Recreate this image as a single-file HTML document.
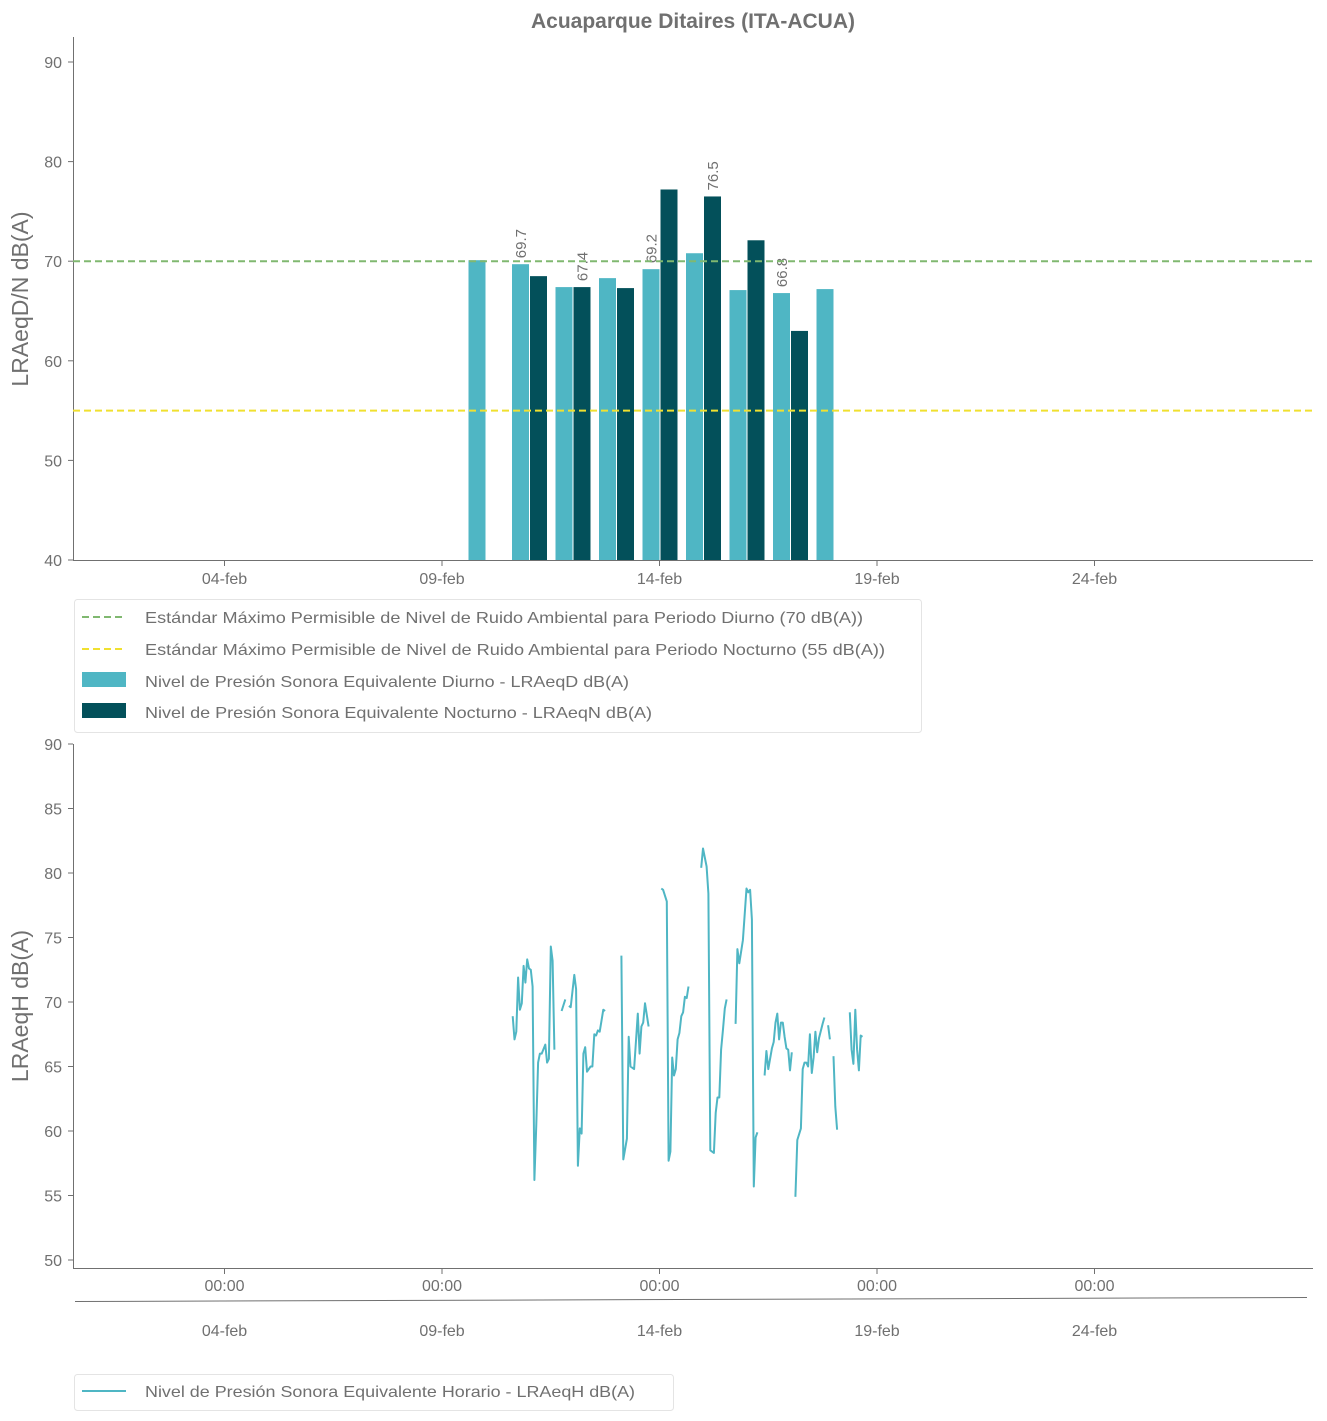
<!DOCTYPE html>
<html><head><meta charset="utf-8"><style>
body{margin:0;background:#fff}
svg{display:block;font-family:"Liberation Sans",sans-serif}
text{fill:#707070}
</style></head><body>
<svg id="svg" width="1327" height="1421" viewBox="0 0 1327 1421">
<text x="693" y="28" text-anchor="middle" font-size="21" font-weight="bold">Acuaparque Ditaires (ITA-ACUA)</text>
<g id="topChart"></g>
<g id="botChart"></g>
<g>
<rect x="74.5" y="599.5" width="847" height="133" rx="3" fill="#fff" stroke="#e4e4e4"/>
<line x1="82" y1="617" x2="126" y2="617" stroke="#80b870" stroke-width="2" stroke-dasharray="7,4"/>
<text x="145" y="623" font-size="16" textLength="718" lengthAdjust="spacingAndGlyphs">Estándar Máximo Permisible de Nivel de Ruido Ambiental para Periodo Diurno (70 dB(A))</text>
<line x1="82" y1="649" x2="126" y2="649" stroke="#f0e030" stroke-width="2" stroke-dasharray="7,4"/>
<text x="145" y="655" font-size="16" textLength="740" lengthAdjust="spacingAndGlyphs">Estándar Máximo Permisible de Nivel de Ruido Ambiental para Periodo Nocturno (55 dB(A))</text>
<rect x="82" y="672" width="44" height="15" fill="#4fb6c4"/>
<text x="145" y="687" font-size="16" textLength="484" lengthAdjust="spacingAndGlyphs">Nivel de Presión Sonora Equivalente Diurno - LRAeqD dB(A)</text>
<rect x="82" y="703" width="44" height="15" fill="#03505a"/>
<text x="145" y="718" font-size="16" textLength="507" lengthAdjust="spacingAndGlyphs">Nivel de Presión Sonora Equivalente Nocturno - LRAeqN dB(A)</text>
</g>
<g>
<rect x="74.5" y="1374.5" width="599" height="36" rx="3" fill="#fff" stroke="#e4e4e4"/>
<line x1="82" y1="1391" x2="126" y2="1391" stroke="#4fb6c4" stroke-width="2"/>
<text x="145" y="1397" font-size="16" textLength="490" lengthAdjust="spacingAndGlyphs">Nivel de Presión Sonora Equivalente Horario - LRAeqH dB(A)</text>
</g>
</svg>
<script>
// ---- data ----
const dayLabels = ["04-feb","09-feb","14-feb","19-feb","24-feb"];
const dayLabelOffsets = [-5,0,5,10,15]; // days from 09-feb
const barDays = [1,2,3,4,5,6,7,8,9]; // 10-feb .. 18-feb, days from 09-feb
const dayValues = [70.1,69.7,67.4,68.3,69.2,70.8,67.1,66.8,67.2];
const nightValues = [null,68.5,67.4,67.3,77.2,76.5,72.1,63.0,null];
const dayLabelShown = [false,true,false,false,true,false,false,true,false];
const nightLabelShown = [false,false,true,false,false,true,false,false,false];
const topTicks = [40,50,60,70,80,90];
const botTicks = [50,55,60,65,70,75,80,85,90];
const dayStandard = 70, nightStandard = 55;
// hourly: hours since 09-feb 00:00 ; null value breaks line
const hours = [39,40,41,42,43,44,45,46,47,48,49,50,51,52,53,54,55,57,58,59,60,61,62,63,
66,68,69,
70,71,73,74,75,76,77,78,79,80,82,83,84,85,86,87,89,90,95,
99,100,102,103,104,106,108,109,110,111,112,114,117,
121,122,124,125,126,127,128,129,130,131,132,133,134,135,136,140,
143,144,146,147,148,150,151,152,153,154,155,156,157,160,
162,163,164,166,168,169,170,171,172,173,174,176,
178,179,180,182,183,184,185,186,187,188,189,190,191,192,193,194,
195,196,198,199,200,201,202,203,204,205,206,207,208,210,211,212,
213,214,215,
216,217,218,222,
225,226,227,228,229,230,231,232];
const values = [68.9,67.1,67.7,71.9,69.4,69.9,72.8,71.5,73.3,72.6,72.5,71.2,56.2,60.5,65.3,66.0,66.0,66.7,65.3,65.6,74.3,73.2,66.3,null,
69.3,70.2,null,
69.7,69.6,72.1,71.0,57.3,60.2,59.8,66.0,66.5,64.6,65.0,65.0,67.5,67.4,67.8,67.7,69.4,69.3,null,
73.6,57.8,59.4,67.3,65.0,64.8,69.1,66.0,68.1,68.4,69.9,68.1,null,
78.8,78.7,77.8,57.7,58.4,65.7,64.3,64.8,67.1,67.6,68.9,69.2,70.4,70.3,71.2,null,
80.4,81.9,80.5,78.4,58.5,58.3,61.4,62.6,62.6,66.3,67.8,69.5,70.2,null,
68.3,74.1,73.0,74.8,78.8,78.5,78.7,76.4,55.7,59.5,59.9,null,
64.3,66.2,64.8,66.4,66.9,68.4,69.1,67.1,68.4,68.4,67.3,66.4,66.3,64.7,66.1,null,
54.9,59.3,60.2,64.8,65.3,65.3,65.0,67.5,64.5,65.7,67.7,66.1,67.2,68.3,68.8,null,
68.2,67.1,null,
65.8,61.9,60.1,null,
69.2,66.3,65.2,69.4,66.3,64.7,67.4,67.3];

// ---- axes ----
const X0 = 442, PXDAY = 43.5;
const xDay = d => X0 + d*PXDAY;
const xHour = h => X0 + h*PXDAY/24;
const yTop = v => 560 - (v-40)*(498/50);
const yBot = v => 1260 - (v-50)*(516/40);
const NS = "http://www.w3.org/2000/svg";
function mk(parent, tag, attrs){const el=document.createElementNS(NS,tag);for(const k in attrs)el.setAttribute(k,attrs[k]);parent.appendChild(el);return el;}
const topG = document.getElementById('topChart'), botG = document.getElementById('botChart');

let e;
e = mk(topG,'line',{x1:73.5,y1:37,x2:73.5,y2:560.5,stroke:'#707070'});


e = mk(topG,'line',{x1:73,y1:560.5,x2:1313,y2:560.5,stroke:'#707070'});


topTicks.forEach(t=>{
  mk(topG,'line',{x1:68,x2:73,y1:yTop(t),y2:yTop(t),stroke:'#707070'});
  e = mk(topG,'text',{x:62,y:yTop(t)+6,'text-anchor':'end','font-size':16});
  e.textContent=t;
  
  
});
dayLabels.forEach((l,i)=>{
  const x=xDay(dayLabelOffsets[i]);
  mk(topG,'line',{x1:x,x2:x,y1:560,y2:566,stroke:'#707070'});
  e = mk(topG,'text',{x:x,y:584,'text-anchor':'middle','font-size':16});
  e.textContent=l;
  
  
});
e = mk(topG,'text',{x:0,y:0,'text-anchor':'middle','font-size':23,transform:`translate(28,299) rotate(-90)`});
e.textContent='LRAeqD/N dB(A)';



barDays.forEach((d,i)=>{
  const cx=xDay(d);
  if(dayValues[i]!=null){
    const y=yTop(dayValues[i]);
    e=mk(topG,'rect',{x:cx-17,y:y,width:17,height:560-y,fill:'#4fb6c4'});
    
    
    if(dayLabelShown[i]){
      e=mk(topG,'text',{x:0,y:0,'font-size':15,transform:`translate(${cx-3},${y-6}) rotate(-90)`});
      e.textContent=dayValues[i].toFixed(1);
      
      
    }
  }
  if(nightValues[i]!=null){
    const y=yTop(nightValues[i]);
    e=mk(topG,'rect',{x:cx+1,y:y,width:17,height:560-y,fill:'#03505a'});
    
    
    if(nightLabelShown[i]){
      e=mk(topG,'text',{x:0,y:0,'font-size':15,transform:`translate(${cx+15},${y-6}) rotate(-90)`});
      e.textContent=nightValues[i].toFixed(1);
      
      
    }
  }
});
e=mk(topG,'line',{x1:73,x2:1313,y1:yTop(dayStandard),y2:yTop(dayStandard),stroke:'#80b870','stroke-width':2,'stroke-dasharray':'7,4'});


e=mk(topG,'line',{x1:73,x2:1313,y1:yTop(nightStandard),y2:yTop(nightStandard),stroke:'#f0e030','stroke-width':2,'stroke-dasharray':'7,4'});



e = mk(botG,'line',{x1:73.5,y1:744,x2:73.5,y2:1268.5,stroke:'#707070'});


e = mk(botG,'line',{x1:73,y1:1268.5,x2:1313,y2:1268.5,stroke:'#707070'});


botTicks.forEach(t=>{
  mk(botG,'line',{x1:68,x2:73,y1:yBot(t),y2:yBot(t),stroke:'#707070'});
  e = mk(botG,'text',{x:62,y:yBot(t)+6,'text-anchor':'end','font-size':16});
  e.textContent=t;
  
  
});
dayLabels.forEach((l,i)=>{
  const x=xDay(dayLabelOffsets[i]);
  mk(botG,'line',{x1:x,x2:x,y1:1268,y2:1274,stroke:'#707070'});
  e = mk(botG,'text',{x:x,y:1291,'text-anchor':'middle','font-size':16});
  e.textContent='00:00';
  
  
  e = mk(botG,'text',{x:x,y:1336,'text-anchor':'middle','font-size':16});
  e.textContent=l;
  
  
});
e = mk(botG,'line',{x1:75,y1:1301.5,x2:1307,y2:1297.5,stroke:'#707070'});


e = mk(botG,'text',{x:0,y:0,'text-anchor':'middle','font-size':23,transform:`translate(28,1006) rotate(-90)`});
e.textContent='LRAeqH dB(A)';



let dPath='', pen=false;
hours.forEach((h,i)=>{
  const v=values[i];
  if(v==null){pen=false;return;}
  dPath += (pen?'L':'M') + xHour(h).toFixed(1)+','+yBot(v).toFixed(1);
  pen=true;
});
e=mk(botG,'path',{d:dPath,fill:'none',stroke:'#4fb6c4','stroke-width':2,'stroke-linejoin':'round'});


</script>
</body></html>
